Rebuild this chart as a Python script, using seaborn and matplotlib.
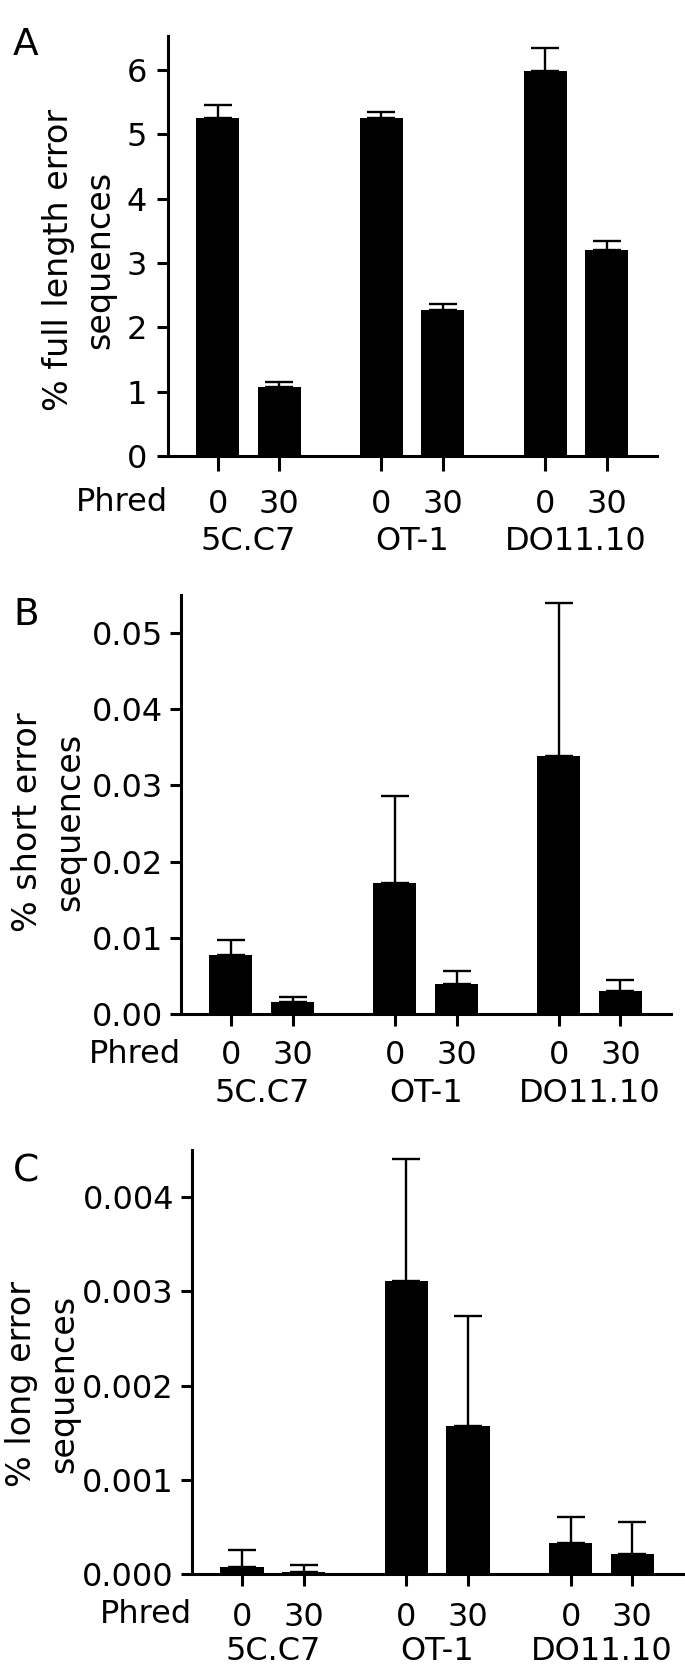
import matplotlib
matplotlib.use('Agg')
import matplotlib.pyplot as plt
import seaborn as sns
import pandas as pd
import numpy as np

groups = ['5C.C7', 'OT-1', 'DO11.10']
phred = ['0', '30']

full_vals = [5.25, 1.07, 5.25, 2.27, 5.99, 3.21]
full_err = [0.20, 0.08, 0.10, 0.10, 0.35, 0.13]

short_vals = [0.0078, 0.0016, 0.0172, 0.0040, 0.0339, 0.0030]
short_err = [0.0019, 0.0006, 0.0114, 0.0016, 0.0201, 0.0015]

long_vals = [0.000075, 0.000022, 0.00311, 0.00157, 0.00033, 0.00021]
long_err = [0.000176, 0.000071, 0.00129, 0.00117, 0.00028, 0.00034]

GROUP_STEP = 2.66
FS = 23

sns.set_style('ticks')
plt.rcParams['font.family'] = ['DejaVu Sans']
plt.rcParams.update({'text.color': 'black', 'axes.labelcolor': 'black',
                     'axes.edgecolor': 'black', 'xtick.color': 'black',
                     'ytick.color': 'black'})


def make_frame(vals, errs):
    rows = []
    for i, g in enumerate(groups):
        for j, p in enumerate(phred):
            k = i * len(phred) + j
            rows.append({'group': g, 'phred': p, 'pos': i * GROUP_STEP + j,
                         'value': vals[k], 'err': errs[k]})
    return pd.DataFrame(rows)


def draw_panel(fig, rect, df, letter, letter_y, ylabel, label_xy, ymax, ystep, fmt,
               xtick_len, xtick_pad, ytick_pad, phred_off, group_off):
    ax = fig.add_axes(rect)
    sns.barplot(data=df, x='pos', y='value', native_scale=True, width=0.7,
                color='black', saturation=1, errorbar=None, linewidth=0, ax=ax)
    ax.errorbar(df['pos'], df['value'], yerr=[np.zeros(len(df)), df['err']],
                fmt='none', ecolor='black', elinewidth=1.7, capsize=10, capthick=1.7)

    ax.set_xlim(-0.81, 7.14)
    ax.set_ylim(0, ymax)
    ax.set_yticks(np.arange(0, ymax, ystep))
    ax.yaxis.set_major_formatter(plt.FormatStrFormatter(fmt))
    ax.set_xticks(df['pos'])
    ax.set_xticklabels(df['phred'])
    ax.set_xlabel('')
    ax.set_ylabel(ylabel, fontsize=24, linespacing=1.35)
    ax.yaxis.set_label_coords(*label_xy)

    for s in ['top', 'right']:
        ax.spines[s].set_visible(False)
    for s in ['left', 'bottom']:
        ax.spines[s].set_linewidth(2.2)
    ax.tick_params(axis='x', length=xtick_len, width=2.2, pad=xtick_pad, labelsize=FS)
    ax.tick_params(axis='y', length=8, width=2.2, pad=ytick_pad, labelsize=FS)

    ax.annotate('Phred', xy=(0, 0), xycoords='axes fraction', xytext=(0, -phred_off),
                textcoords='offset points', ha='right', va='baseline', fontsize=FS)
    for i, g in enumerate(groups):
        ax.annotate(g, xy=(i * GROUP_STEP + 0.5, 0), xycoords=ax.get_xaxis_transform(),
                    xytext=(0, -group_off), textcoords='offset points',
                    ha='center', va='baseline', fontsize=FS)

    fig.text(13 / 685, 1 - letter_y / 1673, letter, ha='left', va='top', fontsize=27)
    return ax


fig = plt.figure(figsize=(6.85, 16.73), dpi=100)

W, H = 685, 1673
draw_panel(fig, [168 / W, 1217 / H, 489 / W, 420 / H], make_frame(full_vals, full_err),
           'A', 27, '% full length error\nsequences', (-0.105, 0.467), 6.53, 1, '%d',
           10.8, 13, 7, 39.6, 67.7)
draw_panel(fig, [181 / W, 659 / H, 490 / W, 419 / H], make_frame(short_vals, short_err),
           'B', 597, '% short error\nsequences', (-0.194, 0.458), 0.055, 0.01, '%.2f',
           8.3, 10.5, 5, 35.3, 63.4)
draw_panel(fig, [192 / W, 99 / H, 491 / W, 424 / H], make_frame(long_vals, long_err),
           'C', 1153, '% long error\nsequences', (-0.228, 0.448), 0.0045, 0.001, '%.3f',
           8.3, 12, 5, 35.3, 62)

fig.savefig('out.png', dpi=100)
